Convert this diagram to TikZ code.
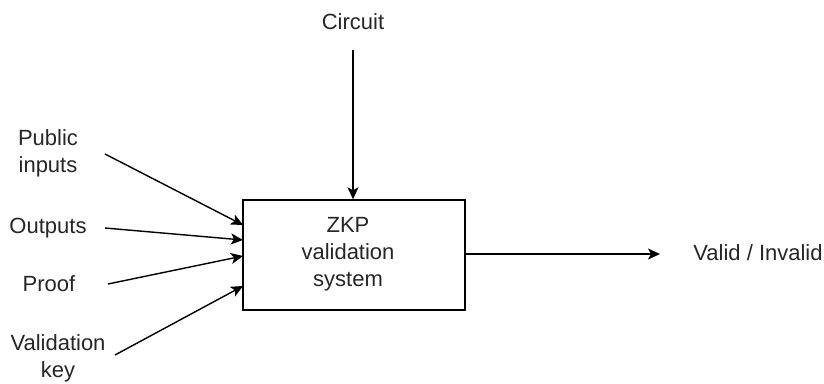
\documentclass[tikz,border=0pt]{standalone}
\usepackage{fontspec}
\setmainfont{Liberation Sans}
\usetikzlibrary{arrows.meta}
\begin{document}
\begin{tikzpicture}[x=1pt,y=-1pt,
  lbl/.style={font=\fontsize{22}{27}\selectfont, text=black!85, align=center, inner sep=0pt},
  conn/.style={line width=1.4pt, -{Stealth[length=12pt,width=11pt,inset=3pt]}}]
\useasboundingbox (0,0) rectangle (824,383);
\node[draw, line width=1.4pt, minimum width=222pt, minimum height=110pt, inner sep=0pt] (sys) at (354,255) {};
\node[lbl] (systxt) at (348,254) {ZKP\\validation\\system};
\node[lbl] (circ) at (353,22) {Circuit};
\node[lbl] (pub) at (48,153) {Public\\inputs};
\node[lbl] (out) at (48,228) {Outputs};
\node[lbl] (proof) at (49,284) {Proof};
\node[lbl] (vk) at (58,358) {Validation\\key};
\node[lbl] (valid) at (758,253) {Valid / Invalid};
\coordinate (c0) at (353,50);
\coordinate (p0) at (105,154);
\coordinate (o0) at (105,228);
\coordinate (f0) at (108,284);
\coordinate (k0) at (115,355);
\coordinate (pI) at (243,225);
\coordinate (oI) at (243,240);
\coordinate (fI) at (243,256);
\coordinate (kI) at (243,286);
\coordinate (vE) at (660,254);
\draw[conn] (c0) -- (sys.north -| c0);
\draw[conn] (p0) -- (pI);
\draw[conn] (o0) -- (oI);
\draw[conn] (f0) -- (fI);
\draw[conn] (k0) -- (kI);
\draw[conn] (sys.east |- vE) -- (vE);
\end{tikzpicture}
\end{document}
